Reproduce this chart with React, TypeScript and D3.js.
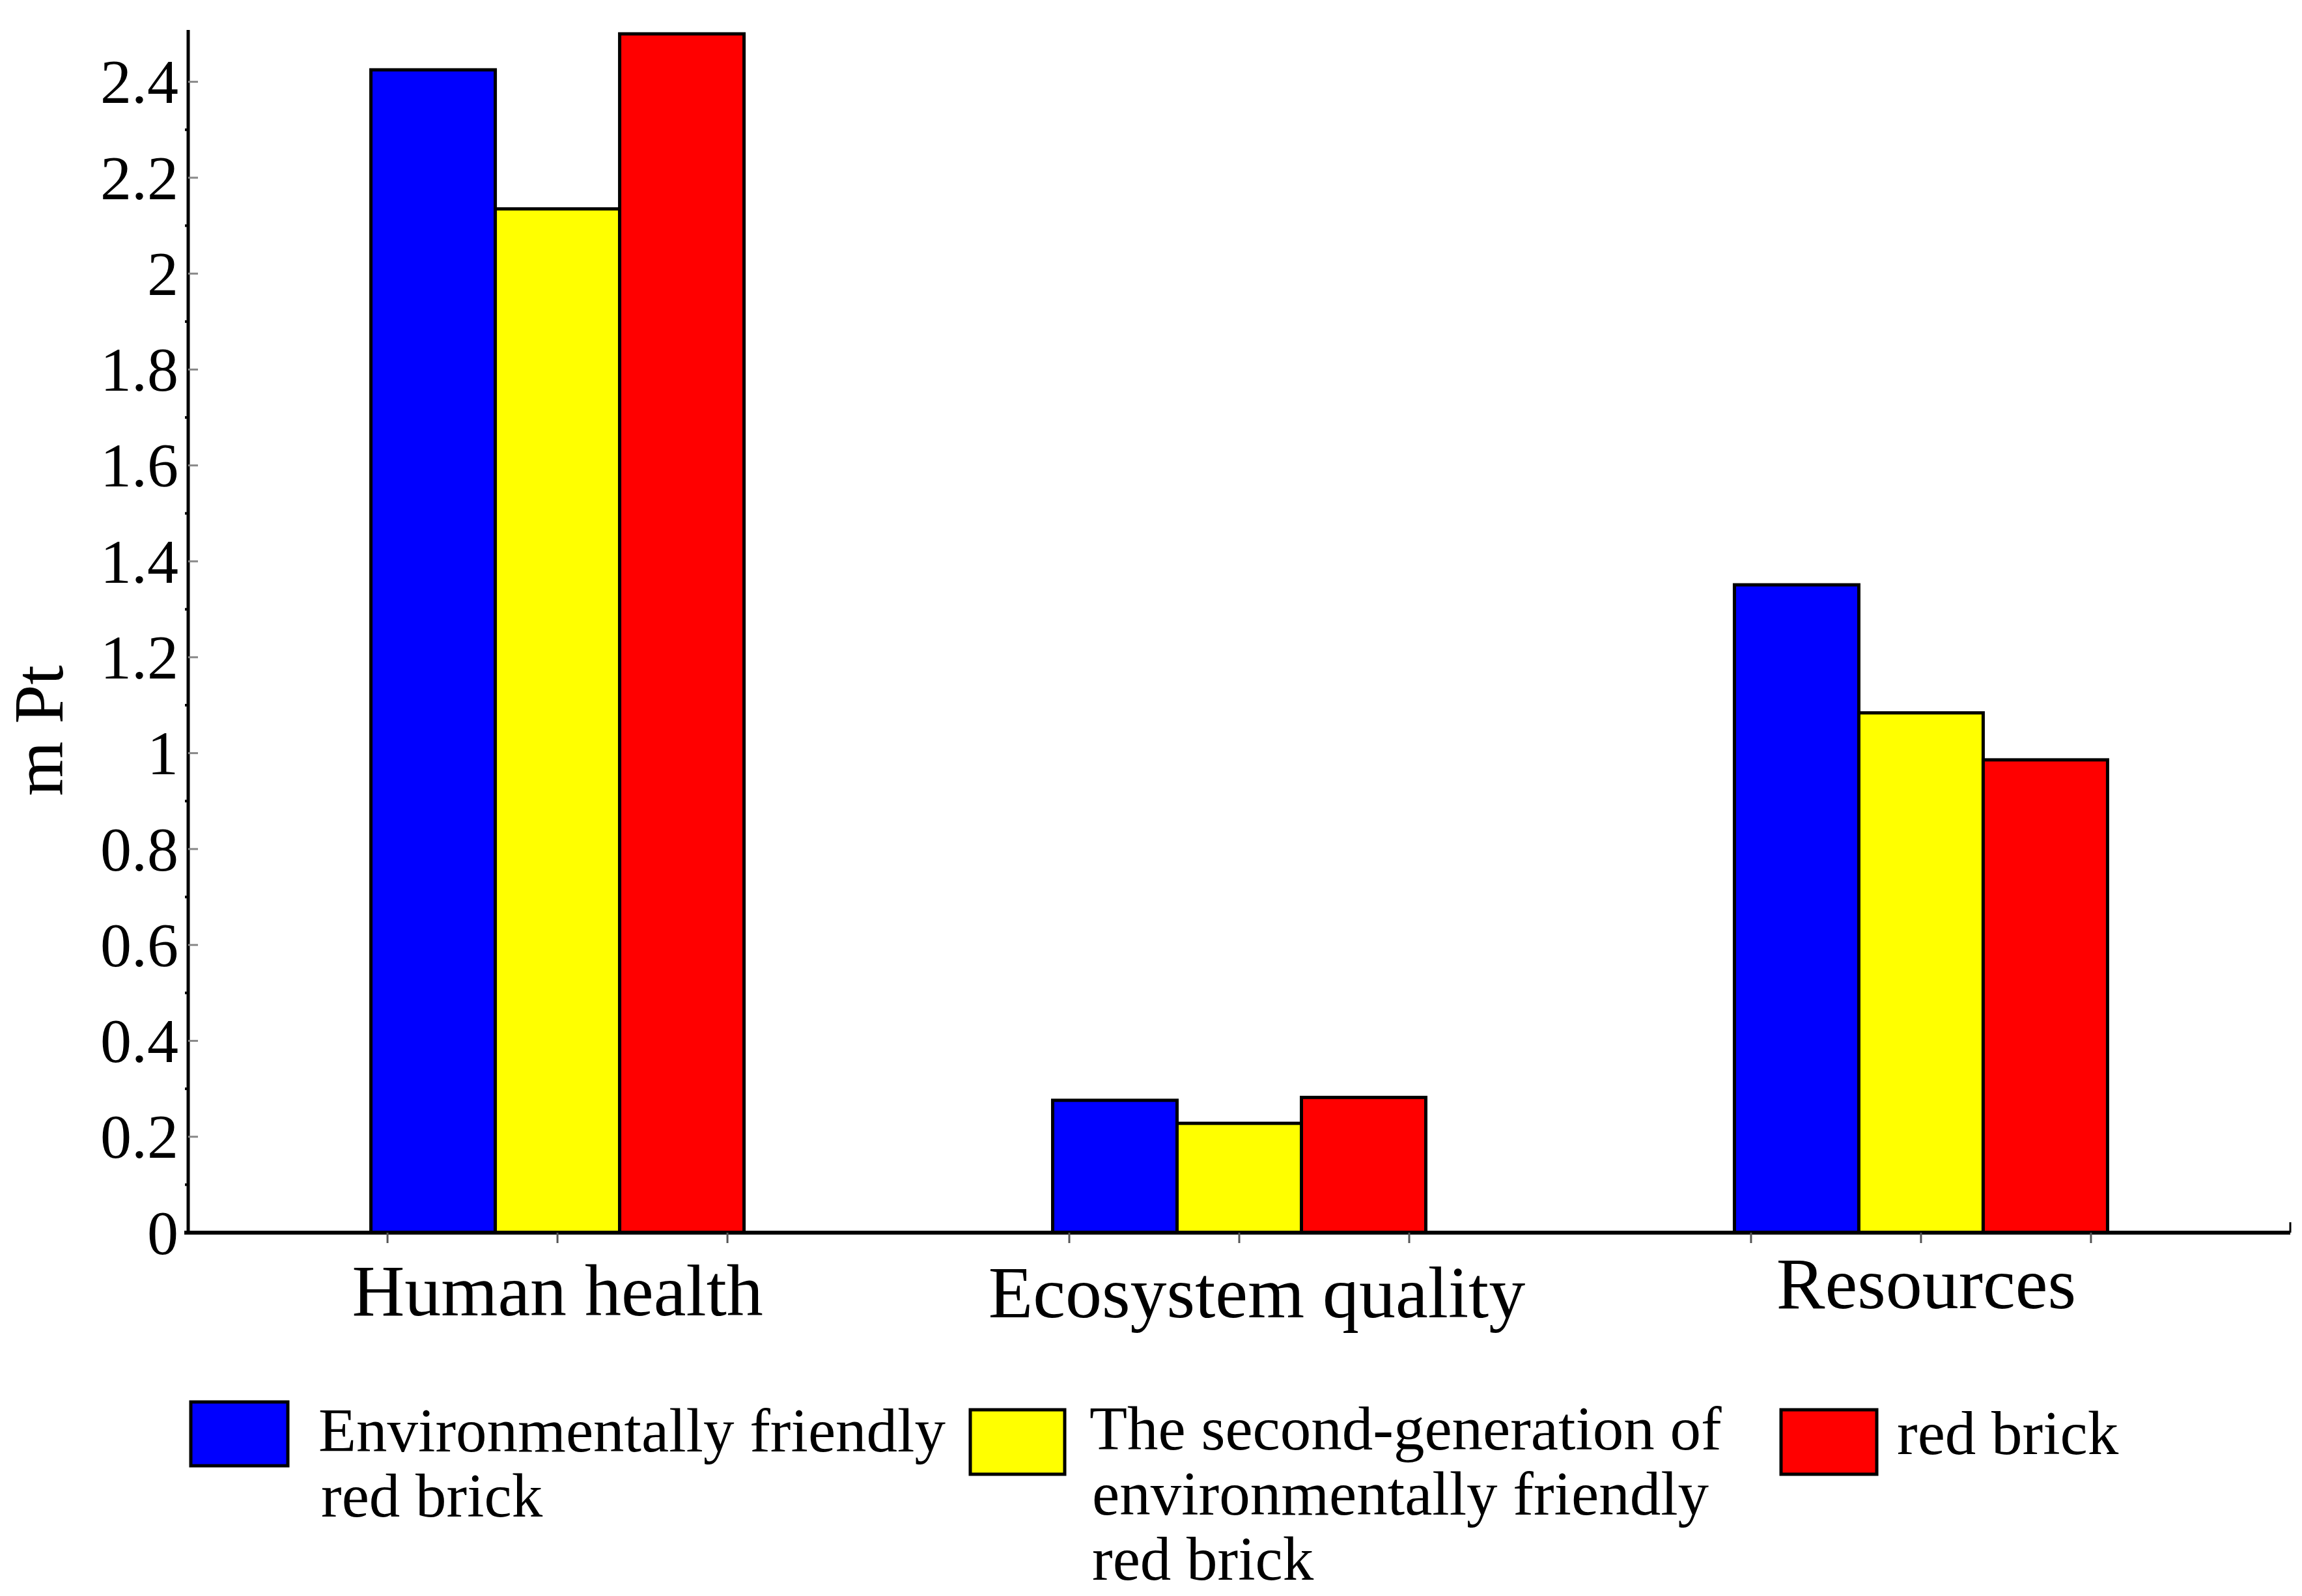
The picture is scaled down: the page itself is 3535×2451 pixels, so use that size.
import * as d3 from "d3";

// Chart data
const categories = ["Human health", "Ecosystem quality", "Resources"];
const seriesNames = [
  "Environmentally friendly red brick",
  "The second-generation of environmentally friendly red brick",
  "red brick",
];
const ecoBrick = [2.425, 0.276, 1.351];
const secondGenBrick = [2.135, 0.228, 1.084];
const redBrick = [2.5, 0.282, 0.986];
const yTicks = [0, 0.2, 0.4, 0.6, 0.8, 1, 1.2, 1.4, 1.6, 1.8, 2, 2.2, 2.4];
const legendLines = [
  ["Environmentally friendly", "red brick"],
  ["The second-generation of", "environmentally friendly", "red brick"],
  ["red brick"],
];

const seriesValues = [ecoBrick, secondGenBrick, redBrick];
const colors = ["#0000ff", "#ffff00", "#ff0000"];

const W = 3535;
const H = 2451;
const FONT = '"Liberation Serif", "Times New Roman", serif';

export default function App() {
  const left = 289;
  const right = 3517;
  const y0 = 1893;

  const yScale = d3.scaleLinear().domain([0, 2.5]).range([y0, 52]);
  const xGroup = d3
    .scaleBand<string>()
    .domain(categories)
    .range([left, right])
    .paddingInner(0.4527)
    .paddingOuter(0.268);
  const xSeries = d3
    .scaleBand<number>()
    .domain(d3.range(seriesNames.length))
    .range([0, xGroup.bandwidth()])
    .padding(0);

  const minorTicks = d3.range(1, 25, 2).map((d) => d / 10);

  // category label nudges (the original labels sit a little off-centre)
  const labelShift = [
    { dx: 0, dy: 0 },
    { dx: 27, dy: 3 },
    { dx: 8, dy: -11 },
  ];

  // legend layout (swatch box + text start + first baseline)
  const legendPos = [
    { sx: 293, sy: 2153, sw: 149, sh: 98, tx: 489, ty: 2229 },
    { sx: 1490, sy: 2165, sw: 145, sh: 99, tx: 1673, ty: 2226 },
    { sx: 2735, sy: 2165, sw: 147, sh: 99, tx: 2913, ty: 2233 },
  ];

  return (
    <svg
      width={W}
      height={H}
      style={{ position: "absolute", left: 0, top: 0, background: "#fff" }}
      fontFamily={FONT}
    >
      <rect x={0} y={0} width={W} height={H} fill="#fff" />

      {/* bars */}
      {categories.map((c, ci) => (
        <g key={c} transform={`translate(${xGroup(c)},0)`}>
          {seriesValues.map((vals, si) => (
            <rect
              key={si}
              x={xSeries(si)}
              y={yScale(vals[ci])}
              width={xSeries.bandwidth()}
              height={y0 - yScale(vals[ci])}
              fill={colors[si]}
              stroke="#000"
              strokeWidth={5}
            />
          ))}
        </g>
      ))}

      {/* y axis */}
      <line x1={left} x2={left} y1={46} y2={y0} stroke="#000" strokeWidth={5} />
      {yTicks.map((t) => (
        <g key={t}>
          <line
            x1={left}
            x2={left + 15}
            y1={yScale(t)}
            y2={yScale(t)}
            stroke="#888"
            strokeWidth={3}
          />
          <text
            x={274}
            y={yScale(t)}
            dy="0.34em"
            textAnchor="end"
            fontSize={96}
            fill="#000"
          >
            {d3.format("~g")(t)}
          </text>
        </g>
      ))}
      {minorTicks.map((t) => (
        <line
          key={t}
          x1={left - 5}
          x2={left}
          y1={yScale(t)}
          y2={yScale(t)}
          stroke="#000"
          strokeWidth={4}
        />
      ))}
      <text
        transform={`translate(96,1122) rotate(-90)`}
        textAnchor="middle"
        fontSize={108}
        fill="#000"
      >
        m Pt
      </text>

      {/* x axis */}
      <line x1={left - 6} x2={right} y1={y0} y2={y0} stroke="#000" strokeWidth={6} />
      <line x1={right} x2={right} y1={y0} y2={y0 - 16} stroke="#000" strokeWidth={3} />
      {categories.map((c, ci) => {
        const cx = (xGroup(c) ?? 0) + xGroup.bandwidth() / 2;
        return (
          <g key={c}>
            {[-261, 0, 261].map((o) => (
              <line
                key={o}
                x1={cx + o}
                x2={cx + o}
                y1={y0}
                y2={y0 + 16}
                stroke="#555"
                strokeWidth={3}
              />
            ))}
            <text
              x={cx + labelShift[ci].dx}
              y={2020 + labelShift[ci].dy}
              textAnchor="middle"
              fontSize={112}
              fill="#000"
            >
              {c}
            </text>
          </g>
        );
      })}

      {/* legend */}
      {seriesNames.map((name, si) => {
        const p = legendPos[si];
        return (
          <g key={name}>
            <rect
              x={p.sx}
              y={p.sy}
              width={p.sw}
              height={p.sh}
              fill={colors[si]}
              stroke="#000"
              strokeWidth={5}
            />
            {legendLines[si].map((ln, li) => (
              <text
                key={li}
                x={p.tx + (li > 0 ? 4 : 0)}
                y={p.ty + li * 100}
                fontSize={95}
                fill="#000"
              >
                {ln}
              </text>
            ))}
          </g>
        );
      })}
    </svg>
  );
}
